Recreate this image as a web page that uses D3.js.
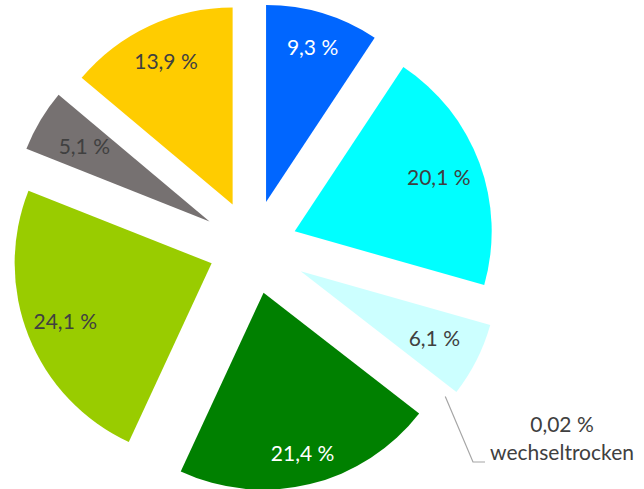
<!DOCTYPE html>
<html>
<head>
<meta charset="utf-8">
<script src="https://cdn.jsdelivr.net/npm/d3@7"></script>
<style>
  html, body { margin: 0; padding: 0; background: #fff; }
  svg { display: block; }
  text { font-family: Lato, "Open Sans", sans-serif; }
</style>
</head>
<body>
<svg id="chart" width="644" height="489"></svg>
<script>
// slice values in percent, clockwise from 12 o'clock
const categories = ['s1', 's2', 's3', 'wechseltrocken', 's5', 's6', 's7', 's8'];
const values = [9.3, 20.1, 6.1, 0.02, 21.4, 24.1, 5.1, 13.9];
const colors = ['#0066FF', '#00FFFF', '#CCFFFF', 'none', '#008000', '#99CC00', '#767171', '#FFCC00'];
const labelColors = ['#fff', '#404040', '#404040', '#404040', '#fff', '#404040', '#404040', '#404040'];
// how far each slice is pulled out from the centre (px)
const explode = [47, 45, 54, 47, 47, 44, 50, 47];
// label distance from slice tip, as part of the radius
const labelPos = [0.82, 0.78, 0.76, 0.8, 0.84, 0.8, 0.74, 0.8];

const width = 644;
const height = 489;
const cx = 252.5;
const cy = 247;
const radius = 197;

const svg = d3.select('#chart');
const g = svg.append('g').attr('transform', `translate(${cx},${cy})`);

const pie = d3.pie().sort(null).value(d => d);
const arcs = pie(values);
const arc = d3.arc().innerRadius(0).outerRadius(radius);

const fmt = v => String(v).replace('.', ',') + ' %';

function offset(d, i) {
    const mid = (d.startAngle + d.endAngle) / 2;
    return [explode[i] * Math.sin(mid), -explode[i] * Math.cos(mid)];
}

const slices = g.selectAll('g.slice')
    .data(arcs)
    .enter()
    .append('g')
    .attr('class', 'slice')
    .attr('transform', (d, i) => {
        const [x, y] = offset(d, i);
        return `translate(${x},${y})`;
    });

slices.append('path')
    .attr('d', arc)
    .attr('fill', (d, i) => colors[i]);

// labels inside the bigger slices
slices.filter((d, i) => categories[i] !== 'wechseltrocken')
    .append('text')
    .attr('transform', d => {
        const i = d.index;
        const mid = (d.startAngle + d.endAngle) / 2;
        const r = radius * labelPos[i];
        return `translate(${r * Math.sin(mid)},${-r * Math.cos(mid)})`;
    })
    .attr('text-anchor', 'middle')
    .attr('dy', '.36em')
    .attr('font-size', 21)
    .attr('fill', d => labelColors[d.index])
    .text(d => fmt(d.data));

// tiny slice gets a leader line and an outside label
const ti = categories.indexOf('wechseltrocken');
const tiny = arcs[ti];
const tmid = (tiny.startAngle + tiny.endAngle) / 2;
const [tox, toy] = offset(tiny, ti);
const sx = tox + radius * Math.sin(tmid);
const sy = toy - radius * Math.cos(tmid);

g.append('polyline')
    .attr('points', `${sx},${sy} ${473 - cx},${462 - cy} ${485 - cx},${462 - cy}`)
    .attr('fill', 'none')
    .attr('stroke', '#A6A6A6')
    .attr('stroke-width', 1.2);

const tl = svg.append('text')
    .attr('text-anchor', 'middle')
    .attr('font-size', 21)
    .attr('fill', '#404040');
tl.append('tspan').attr('x', 562).attr('y', 432).text(fmt(values[ti]));
tl.append('tspan').attr('x', 562).attr('y', 460).text(categories[ti]);
</script>
</body>
</html>
